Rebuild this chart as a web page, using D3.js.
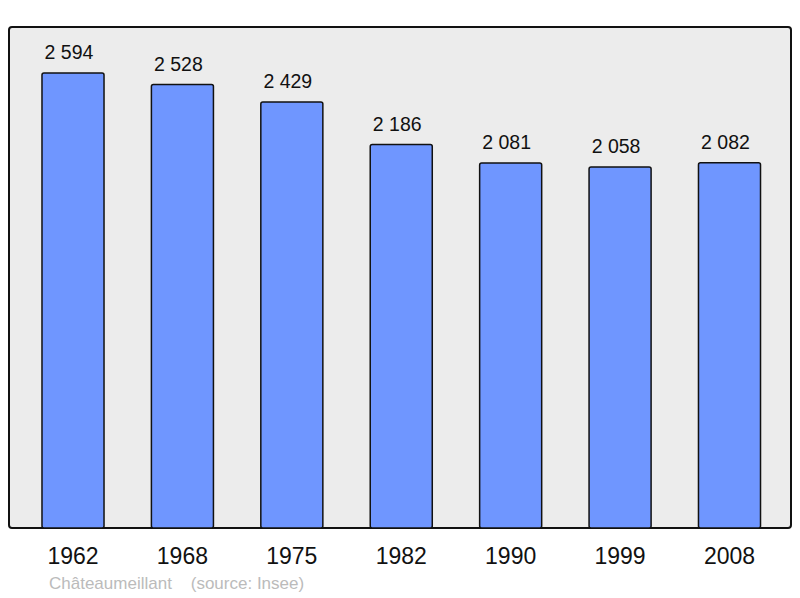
<!DOCTYPE html>
<html>
<head>
<meta charset="utf-8">
<script src="https://cdn.jsdelivr.net/npm/d3@7"></script>
<style>
body { margin: 0; background: #fff; }
text { font-family: "Liberation Sans", Arial, sans-serif; }
</style>
</head>
<body>
<script>
var years = ["1962", "1968", "1975", "1982", "1990", "1999", "2008"];
var population = [2594, 2528, 2429, 2186, 2081, 2058, 2082];
var town = "Châteaumeillant";
var source = "(source: Insee)";

var svg = d3.select("body").append("svg")
    .attr("width", 800)
    .attr("height", 598);

// plot frame
svg.append("rect")
    .attr("x", 9)
    .attr("y", 27)
    .attr("width", 782)
    .attr("height", 501)
    .attr("rx", 3)
    .attr("fill", "#ececec")
    .attr("stroke", "#111")
    .attr("stroke-width", 2);

var x = d3.scaleBand()
    .domain(years)
    .range([18.3, 784.2])
    .paddingInner(0.433)
    .paddingOuter(0.2165);

var y = d3.scaleLinear()
    .domain([0, 2856])
    .range([528, 27]);

svg.selectAll("rect.bar")
    .data(population)
    .enter()
    .append("rect")
    .attr("class", "bar")
    .attr("x", function(d, i) { return x(years[i]); })
    .attr("y", function(d) { return y(d); })
    .attr("width", x.bandwidth())
    .attr("height", function(d) { return y(0) - y(d); })
    .attr("rx", 2)
    .attr("fill", "#6f96ff")
    .attr("stroke", "#111")
    .attr("stroke-width", 1.5);

// value labels, French thousands separator
svg.selectAll("text.val")
    .data(population)
    .enter()
    .append("text")
    .attr("class", "val")
    .attr("x", function(d, i) { return x(years[i]) + x.bandwidth() / 2 - 4; })
    .attr("y", function(d) { return y(d) - 14; })
    .attr("text-anchor", "middle")
    .attr("font-size", 19.5)
    .attr("fill", "#111")
    .text(function(d) { return d3.format(",")(d).replace(",", " "); });

// year labels
svg.selectAll("text.year")
    .data(years)
    .enter()
    .append("text")
    .attr("class", "year")
    .attr("x", function(d) { return x(d) + x.bandwidth() / 2; })
    .attr("y", 564)
    .attr("text-anchor", "middle")
    .attr("font-size", 23)
    .attr("fill", "#111")
    .text(function(d) { return d; });

svg.append("text")
    .attr("x", 49)
    .attr("y", 589)
    .attr("font-size", 17)
    .attr("fill", "#bbb")
    .attr("xml:space", "preserve")
    .text(town + "    " + source);
</script>
</body>
</html>
